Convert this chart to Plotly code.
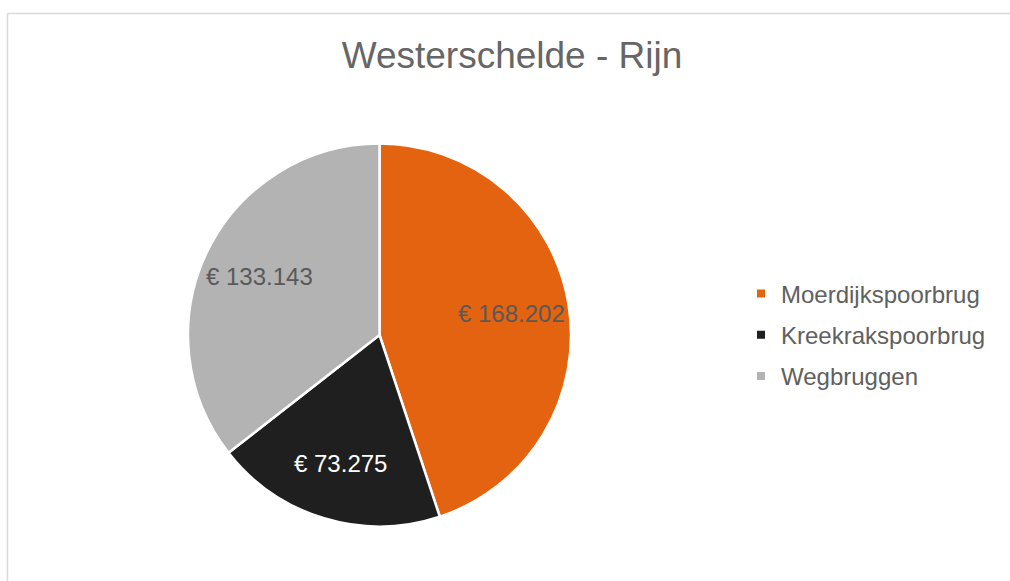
import math
import plotly.graph_objects as go

categories = ["Moerdijkspoorbrug", "Kreekrakspoorbrug", "Wegbruggen"]
values = [168202, 73275, 133143]
value_labels = ["€ 168.202", "€ 73.275", "€ 133.143"]
colors = ["#E36310", "#1F1F1F", "#B3B3B3"]
text_colors = ["#595959", "#FFFFFF", "#595959"]

W, H = 1010, 581
FONT = "Liberation Sans, Arial, sans-serif"
PIE_L, PIE_R, PIE_T, PIE_B = 188, 571, 143, 527
LABEL_RADIUS = 0.7

fig = go.Figure()
fig.add_trace(go.Pie(
    labels=categories,
    values=values,
    textinfo="none",
    sort=False,
    direction="clockwise",
    rotation=0,
    showlegend=False,
    marker=dict(colors=colors, line=dict(color="#FFFFFF", width=2.5)),
    domain=dict(x=[PIE_L / W, PIE_R / W], y=[1 - PIE_B / H, 1 - PIE_T / H]),
    hoverinfo="label+value",
))

# legend entries
for i, (cat, col) in enumerate(zip(categories, colors)):
    fig.add_trace(go.Scatter(
        x=[None], y=[None], mode="markers", name=cat,
        marker=dict(symbol="square", size=8, color=col),
        legendgroup=f"g{i}", showlegend=True, hoverinfo="skip",
    ))

# value labels at slice mid-angles (derived from the data)
total = sum(values)
cx = (PIE_L + PIE_R) / 2
cy = (PIE_T + PIE_B) / 2
R = (PIE_R - PIE_L) / 2
cum = 0
annotations = []
for v, lab, tc in zip(values, value_labels, text_colors):
    mid = (cum + v / 2) / total * 2 * math.pi
    cum += v
    px = cx + LABEL_RADIUS * R * math.sin(mid)
    py = cy - LABEL_RADIUS * R * math.cos(mid)
    annotations.append(dict(
        x=px / W, y=1 - py / H, xref="paper", yref="paper",
        text=lab, showarrow=False, xanchor="center", yanchor="middle",
        font=dict(family=FONT, size=24, color=tc),
    ))

border = dict(color="#D9D9D9", width=1.5)
fig.update_layout(
    width=W, height=H,
    margin=dict(l=0, r=0, t=0, b=0),
    paper_bgcolor="#FFFFFF",
    plot_bgcolor="rgba(0,0,0,0)",
    xaxis=dict(visible=False),
    yaxis=dict(visible=False),
    title=dict(
        text="Westerschelde - Rijn",
        x=512 / W, xanchor="center",
        y=1 - 55 / H, yanchor="middle",
        font=dict(family=FONT, size=37, color="#666666"),
    ),
    legend=dict(
        x=741 / W, xanchor="left",
        y=1 - 335 / H, yanchor="middle",
        font=dict(family=FONT, size=24, color="#606060"),
        bgcolor="rgba(0,0,0,0)",
        tracegroupgap=7,
    ),
    annotations=annotations,
    shapes=[
        dict(type="line", xref="paper", yref="paper",
             x0=7.5 / W, x1=1.0, y0=1 - 13.5 / H, y1=1 - 13.5 / H,
             line=border, layer="below"),
        dict(type="line", xref="paper", yref="paper",
             x0=7.5 / W, x1=7.5 / W, y0=0.0, y1=1 - 13.5 / H,
             line=border, layer="below"),
    ],
)

fig.write_html(
    "out.html",
    config={"displayModeBar": False},
    post_script="document.body.style.margin='0';document.body.style.overflow='hidden';",
)
